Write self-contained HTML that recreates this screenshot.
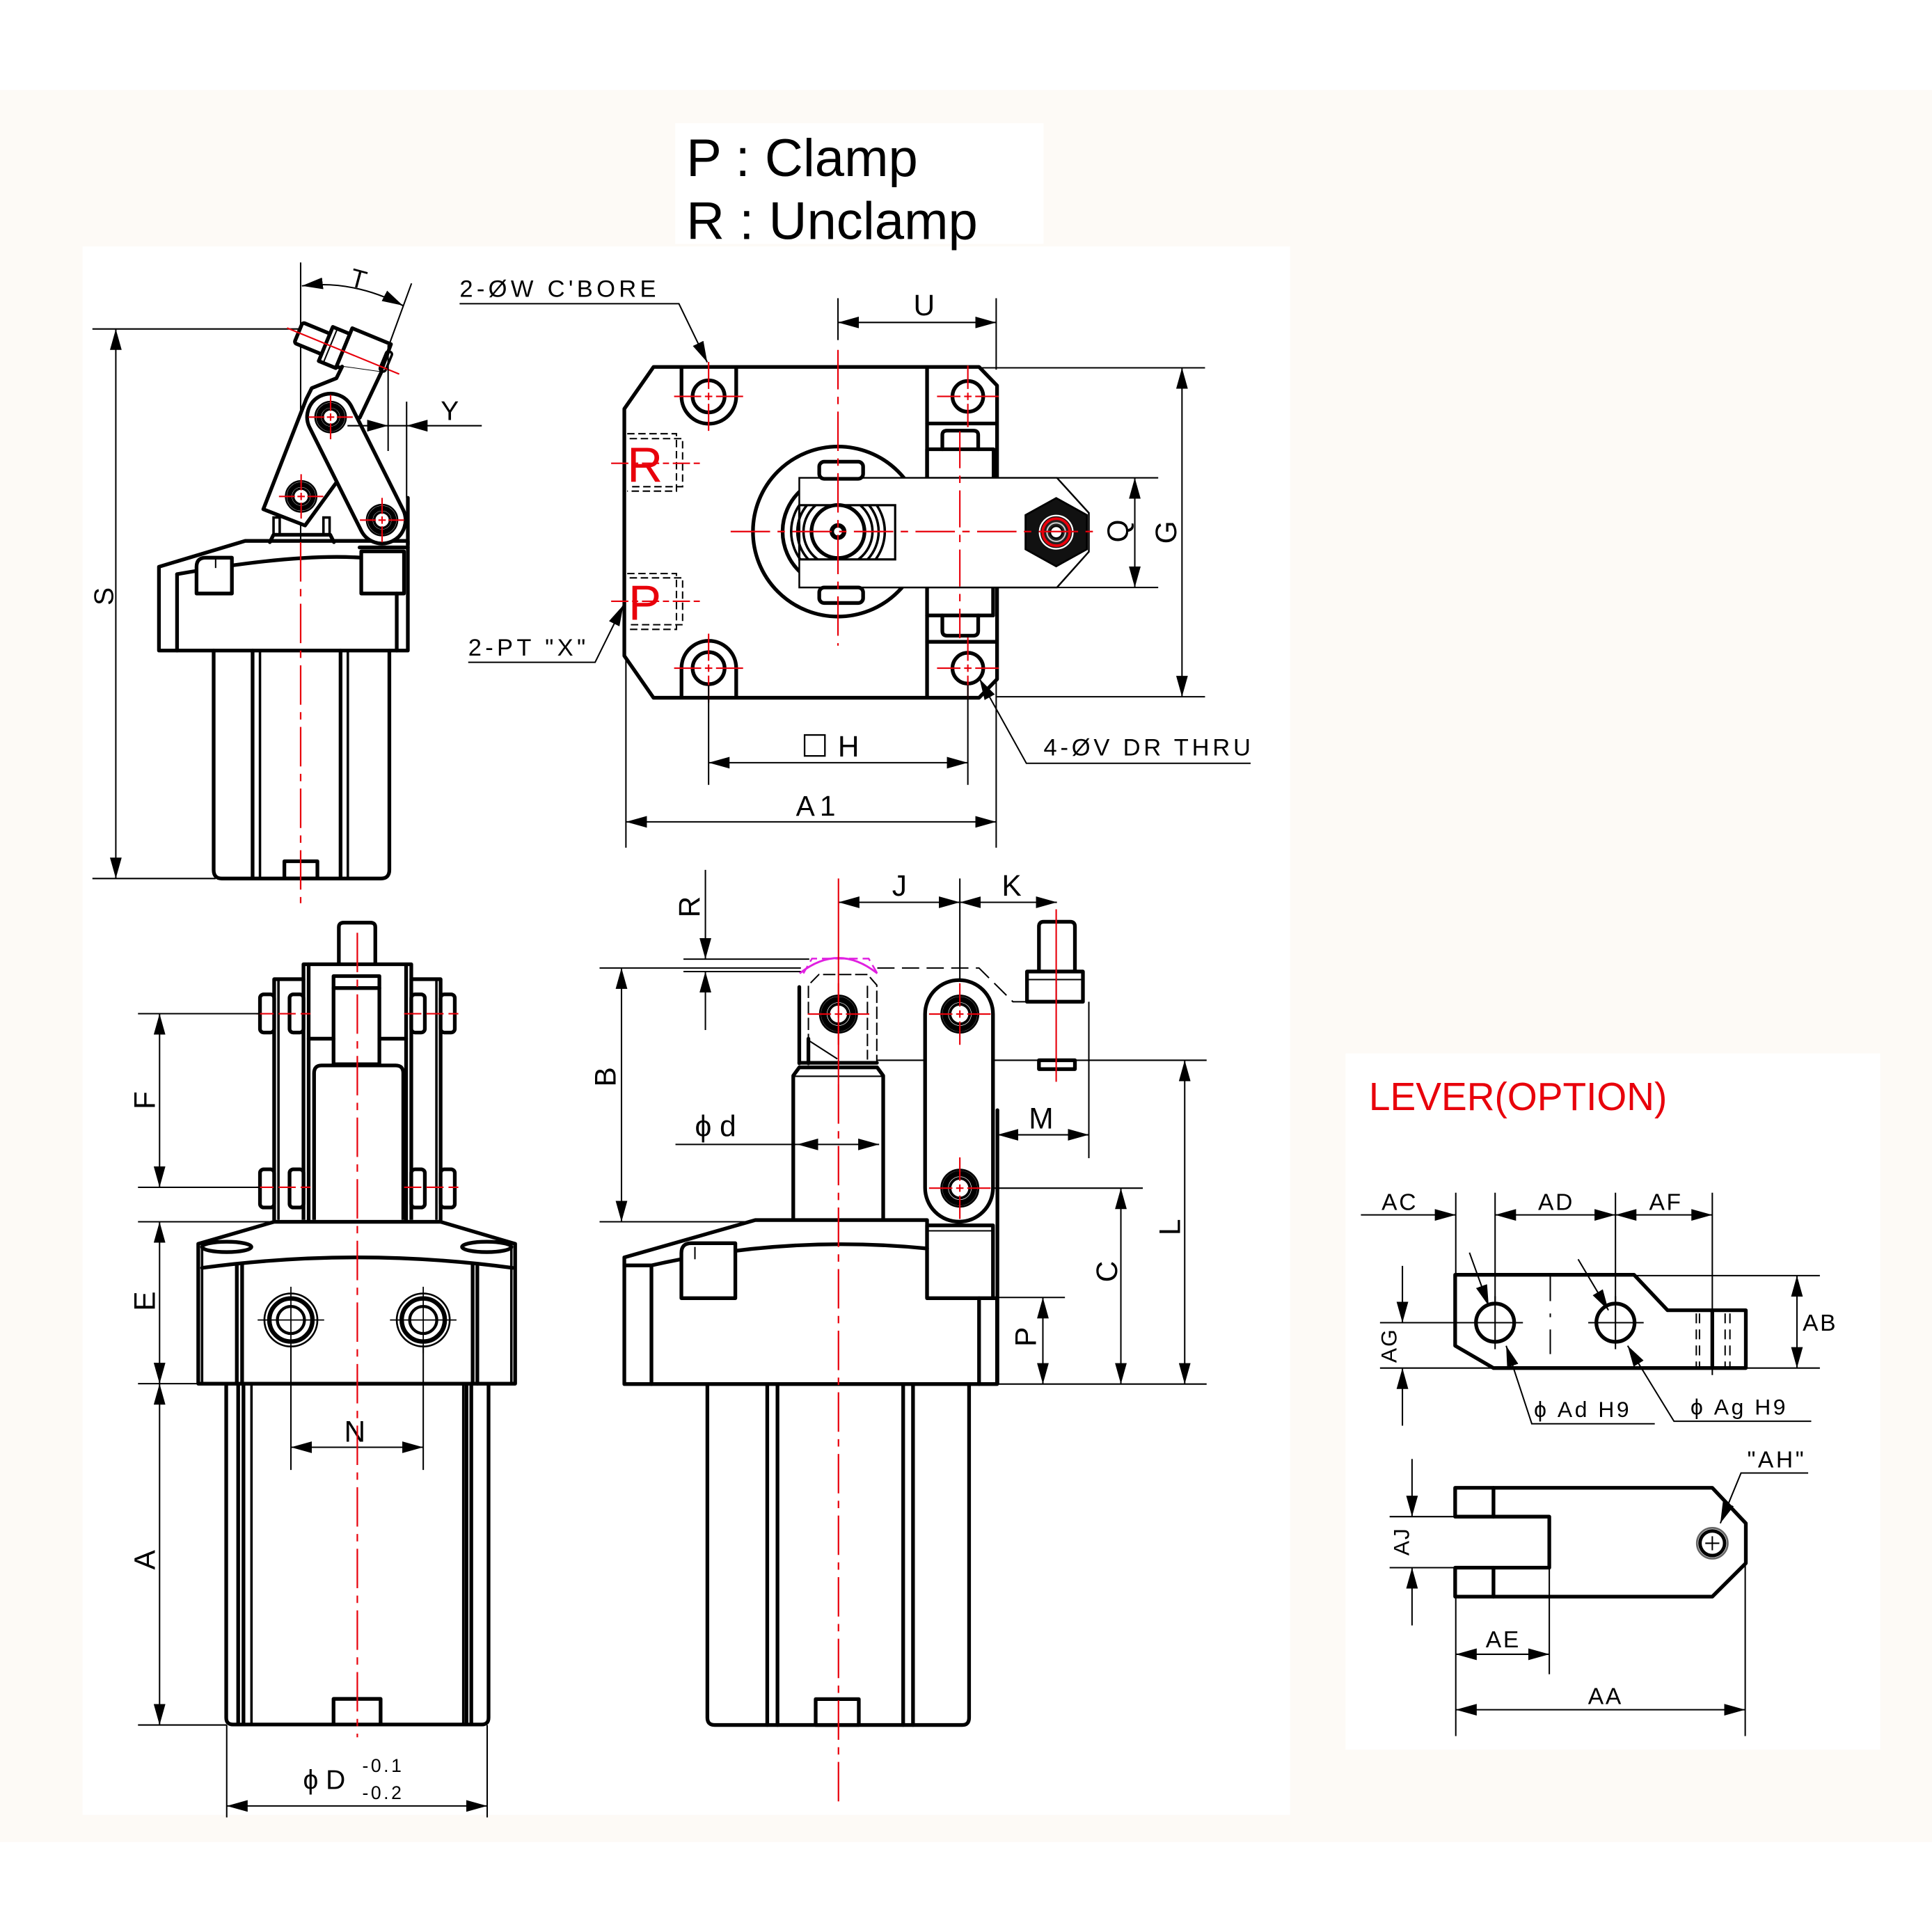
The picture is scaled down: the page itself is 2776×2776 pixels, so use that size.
<!DOCTYPE html>
<html><head><meta charset="utf-8">
<style>
html,body{margin:0;padding:0;background:#fff}
svg{display:block}
.k{stroke:#000;stroke-width:3;fill:none;stroke-linejoin:round;stroke-linecap:round}
.kf{stroke:#000;stroke-width:3;fill:#fff;stroke-linejoin:round}
.m{stroke:#000;stroke-width:2;fill:none}
.t{stroke:#000;stroke-width:1.15;fill:none}
.r{stroke:#e8000b;stroke-width:1.2;fill:none}
.rc{stroke:#e8000b;stroke-width:1.25;fill:none;stroke-dasharray:32 6 6 6}
.dm{stroke:#000;stroke-width:1.15;fill:none;marker-start:url(#a);marker-end:url(#a)}
.de{stroke:#000;stroke-width:1.15;fill:none;marker-end:url(#a)}
text{font-family:"Liberation Sans",Arial,sans-serif;fill:#000}
</style></head><body>
<svg width="2776" height="2776" viewBox="0 0 1568 1568" xmlns="http://www.w3.org/2000/svg">
<defs>
<marker id="a" viewBox="0 0 17 9.5" refX="17" refY="4.75" markerWidth="17" markerHeight="9.5" markerUnits="userSpaceOnUse" orient="auto-start-reverse"><path d="M0,0 L17,4.75 L0,9.5 Z" fill="#000"/></marker>
<path id="x28" d="M-28,0H-6M-3,0H3M6,0H28M0,-28V-6M0,-3V3M0,6V28" stroke="#e8000b" stroke-width="1.2" fill="none"/>
<path id="x24" d="M-25,0H-6M-3,0H3M6,0H25M0,-25V-6M0,-3V3M0,6V25" stroke="#e8000b" stroke-width="1.2" fill="none"/>
<path id="x18" d="M-18,0H-5M-3,0H3M5,0H18M0,-18V-5M0,-3V3M0,5V18" stroke="#e8000b" stroke-width="1.2" fill="none"/>
<path id="bx26" d="M-27,0H27M0,-27V27" stroke="#000" stroke-width="1" fill="none"/>
<g id="pin"><circle r="15" fill="#fff" stroke="#000" stroke-width="1.6"/><circle r="11.8" fill="none" stroke="#000" stroke-width="4.6"/><circle r="8" fill="#fff" stroke="#000" stroke-width="2.2"/></g>
<g id="pins"><circle r="12.5" fill="#fff" stroke="#000" stroke-width="1.4"/><circle r="9.6" fill="none" stroke="#000" stroke-width="4"/><circle r="6.4" fill="#fff" stroke="#000" stroke-width="2"/></g>
<g id="port"><circle r="21.5" fill="#fff" stroke="#000" stroke-width="1.5"/><circle r="17.5" fill="none" stroke="#000" stroke-width="3.6"/><circle r="11" fill="none" stroke="#000" stroke-width="2.4"/></g>
<clipPath id="hc"><rect x="636" y="410" width="100" height="44"/></clipPath>
</defs>

<!-- backgrounds -->
<rect width="1568" height="1568" fill="#fff"/>
<rect x="0" y="73" width="1568" height="1422" fill="#fdfaf6"/>
<rect x="67" y="200" width="980" height="1273" fill="#fff"/>
<rect x="548" y="100" width="299" height="98" fill="#fff"/>
<rect x="1092" y="855" width="434" height="565" fill="#fff"/>

<!-- header -->
<text x="557" y="143" font-size="43">P : Clamp</text>
<text x="557" y="194" font-size="43">R : Unclamp</text>

<!-- ================= VIEW 1 (top-left side) ================= -->
<line class="t" x1="75" y1="267" x2="244" y2="267"/>
<line class="t" x1="75" y1="713" x2="175" y2="713"/>
<line class="dm" x1="94" y1="267" x2="94" y2="713"/>
<text transform="translate(84,484) rotate(-90)" font-size="22" text-anchor="middle" dy="0.36em">S</text>

<line class="t" x1="244" y1="213" x2="244" y2="440"/>
<path class="dm" d="M245,232 Q287,227 327,248"/>
<line class="t" x1="334" y1="230" x2="315" y2="282"/>
<text transform="translate(291,226) rotate(15)" font-size="21" text-anchor="middle" dy="0.36em">T</text>

<!-- flange -->
<path class="kf" d="M129,528 L129,460 L199,439 L331,439 L331,528 Z"/>
<line class="k" x1="143.7" y1="466" x2="143.7" y2="528"/>
<path class="k" d="M143.7,466 Q240,449 293,452.6"/>
<path class="kf" d="M159.5,481.7 L159.5,460 Q159.5,452.6 167,452.6 L188.2,452.6 L188.2,481.7 Z"/>
<line class="t" x1="175" y1="452.6" x2="175" y2="461"/>
<rect class="k" x="293.2" y="447.5" width="34.7" height="34.2"/>
<line class="k" x1="322" y1="481.7" x2="322" y2="528"/>
<line class="k" x1="291.8" y1="444.3" x2="331" y2="444.3"/>
<!-- tube -->
<path class="k" d="M173.4,528 L173.4,706 Q173.4,713 180,713 L309,713 Q316,713 316,706 L316,528"/>
<line class="k" x1="205" y1="528" x2="205" y2="713"/>
<line class="m" x1="211" y1="528" x2="211" y2="713"/>
<line class="k" x1="276.4" y1="528" x2="276.4" y2="713"/>
<line class="m" x1="282.3" y1="528" x2="282.3" y2="713"/>
<rect class="k" x="230.8" y="699" width="26.8" height="14"/>
<line class="rc" x1="244" y1="440" x2="244" y2="733"/>

<!-- bracket under P1 -->
<rect class="m" x="222" y="420" width="5" height="14"/>
<rect class="m" x="262.5" y="420" width="5" height="14"/>
<path class="k" d="M219,440 L222,434 L268,434 L271,440"/>

<!-- rod -->
<g transform="translate(242.2,270) rotate(22.4)">
<rect class="kf" x="0" y="-9" width="25" height="18" rx="2"/>
<rect class="kf" x="24" y="-15" width="15" height="30"/>
<line class="t" x1="28" y1="-15" x2="28" y2="15"/>
<path class="kf" d="M39,-14 L39,-20 L73,-20 L74,5 L39,14 Z"/>
<rect class="m" x="72" y="-14" width="5" height="17" rx="2" fill="#fff"/>
</g>
<!-- left link + upper lever -->
<path fill="#fff" d="M277.7,297.5 L273,307 L253,315 L248.5,324 L213.7,413.3 L247.6,426.5 L273,391.6 L292,339 L309.5,302 Z"/>
<path class="k" d="M277.7,297.5 L273,307 L253,315 L248.5,324 L213.7,413.3 L247.6,426.5 L273,391.6"/>
<path class="k" d="M309.5,302 L292,339"/>
<line class="r" x1="233" y1="266.2" x2="324" y2="303.6"/>
<!-- right link -->
<path class="kf" d="M251.3,347 L293.1,430.6 A19,19 0 0 0 327.1,413.6 L285.3,330 A19,19 0 0 0 251.3,347 Z"/>
<line class="k" x1="331" y1="404" x2="331" y2="442"/>
<use href="#pins" x="244.4" y="402.9"/>
<use href="#pins" x="268.3" y="338.5"/>
<use href="#pins" x="310.1" y="422.1"/>
<use href="#x18" x="244.4" y="402.9"/>
<use href="#x18" x="268.3" y="338.5"/>
<use href="#x18" x="310.1" y="422.1"/>
<!-- Y -->
<line class="t" x1="315" y1="280" x2="315" y2="366"/>
<line class="t" x1="330" y1="326" x2="330" y2="404"/>
<line class="t" x1="282" y1="345.5" x2="391" y2="345.5"/>
<path d="M315,345.5 L298,340.7 L298,350.3 Z" fill="#000"/>
<path d="M330,345.5 L347,340.7 L347,350.3 Z" fill="#000"/>
<text x="365" y="341" font-size="22" text-anchor="middle">Y</text>

<!-- ================= VIEW 2 (top view) ================= -->
<line class="t" x1="680.1" y1="242" x2="680.1" y2="276"/>
<line class="t" x1="808.5" y1="242" x2="808.5" y2="300"/>
<line class="dm" x1="680.1" y1="261.7" x2="808.5" y2="261.7"/>
<text x="750" y="256" font-size="24" text-anchor="middle">U</text>

<path class="kf" d="M530.4,297.8 L794.6,297.8 L809.2,312.9 L809.2,551.2 L794.6,566.3 L530.4,566.3 L506.7,532.3 L506.7,331.8 Z"/>
<path class="k" d="M553.1,298 L553.1,321.7 A22.2,22.2 0 0 0 597.5,321.7 L597.5,298"/>
<circle class="k" cx="575.1" cy="321.7" r="13"/>
<path class="k" d="M553.1,566 L553.1,542.3 A22.2,22.2 0 0 1 597.5,542.3 L597.5,566"/>
<circle class="k" cx="575.1" cy="542.3" r="13"/>
<circle class="k" cx="785.5" cy="321.7" r="12.5"/>
<circle class="k" cx="785.5" cy="542.3" r="12.5"/>
<!-- right block -->
<line class="k" x1="752.4" y1="298" x2="752.4" y2="388.6"/>
<line class="k" x1="752.4" y1="476.8" x2="752.4" y2="566"/>
<line class="k" x1="752.4" y1="343.7" x2="809" y2="343.7"/>
<rect class="k" x="752.4" y="364.6" width="54" height="24"/>
<path class="k" d="M764.8,364.6 L764.8,353 Q764.8,349.5 768.5,349.5 L790,349.5 Q793.9,349.5 793.9,353 L793.9,364.6"/>
<line class="k" x1="806" y1="476.8" x2="806" y2="499.5"/>
<line class="k" x1="752.4" y1="499.5" x2="806" y2="499.5"/>
<path class="k" d="M764.8,499.5 L764.8,512 Q764.8,515.9 768.5,515.9 L790,515.9 Q793.9,515.9 793.9,512 L793.9,499.5"/>
<line class="k" x1="752.4" y1="520.9" x2="809" y2="520.9"/>
<!-- big circle -->
<circle class="k" cx="680.1" cy="431.4" r="69" stroke-width="2.6"/>
<path class="k" d="M648.7,399.2 A45,45 0 0 0 648.7,463.6" stroke-width="2.4"/>
<!-- lever bar -->
<path d="M648.7,387.8 L857.8,387.8 L883.7,416.3 L883.7,447.8 L857.8,476.8 L648.7,476.8 Z" fill="#fff" stroke="#000" stroke-width="1.4"/>
<line class="t" x1="857.8" y1="387.8" x2="940" y2="387.8"/>
<line class="t" x1="857.8" y1="476.8" x2="940" y2="476.8"/>
<rect x="648.7" y="410" width="77.8" height="44" fill="none" stroke="#000" stroke-width="1.8"/>
<g clip-path="url(#hc)" fill="none" stroke="#000" stroke-width="2"><circle cx="680.1" cy="431.4" r="28"/><circle cx="680.1" cy="431.4" r="33"/><circle cx="680.1" cy="431.4" r="38"/></g>
<circle class="k" cx="680.1" cy="431.4" r="21.5" stroke-width="2.5"/>
<circle cx="680.1" cy="431.4" r="5" fill="#fff" stroke="#000" stroke-width="3.6"/>
<rect class="kf" x="664.9" y="374.7" width="35.6" height="13.9" rx="4"/>
<rect class="kf" x="664.9" y="476.8" width="35.6" height="12.6" rx="4"/>
<!-- hex nut -->
<polygon points="857.2,404.2 882.1,418 882.1,445.8 857.2,459.6 832.3,445.8 832.3,418" fill="#111" stroke="#000" stroke-width="1.5"/>
<circle cx="857.2" cy="431.9" r="13.5" fill="none" stroke="#fff" stroke-width="1.3"/>
<circle cx="857.2" cy="431.9" r="11" fill="#222" stroke="#e8000b" stroke-width="2.2"/>
<circle cx="857.2" cy="431.9" r="7.5" fill="none" stroke="#ccc" stroke-width="1.2"/>
<circle cx="857.2" cy="431.9" r="4.8" fill="#fff" stroke="#000" stroke-width="1.2"/>
<!-- centerlines -->
<line class="rc" x1="680.1" y1="284" x2="680.1" y2="524"/>
<line class="rc" x1="593" y1="431.4" x2="892" y2="431.4"/>
<line class="r" x1="779" y1="350" x2="779" y2="518" stroke-dasharray="30 6 6 6"/>
<use href="#x28" x="575.1" y="321.7"/>
<use href="#x28" x="575.1" y="542.3"/>
<use href="#x24" x="785.5" y="321.7"/>
<use href="#x24" x="785.5" y="542.3"/>
<!-- R / P ports -->
<path class="t" stroke-dasharray="6 3" d="M509,352 H549 V398.6 H509 M511,356 H554 V395 H511"/>
<path class="t" stroke-dasharray="6 3" d="M509,465.5 H549 V510.8 H509 M511,469 H554 V507 H511"/>
<line class="r" x1="496" y1="376" x2="568" y2="376" stroke-dasharray="14 3 5 3"/>
<line class="r" x1="496" y1="488" x2="568" y2="488" stroke-dasharray="14 3 5 3"/>
<text x="509" y="391" font-size="40" fill="#e8000b" style="fill:#e8000b">R</text>
<text x="510" y="503" font-size="40" fill="#e8000b" style="fill:#e8000b">P</text>
<!-- leaders -->
<text x="373" y="241" font-size="19.5" letter-spacing="3">2-ØW C'BORE</text>
<path class="de" d="M373,246.5 L551,246.5 L574,294"/>
<text x="380" y="532" font-size="19.5" letter-spacing="3">2-PT "X"</text>
<path class="de" d="M380,537.5 L483,537.5 L506,491"/>
<text x="847" y="613" font-size="19.5" letter-spacing="2.7">4-ØV DR THRU</text>
<path class="de" d="M1015,619.5 L833,619.5 L795,551"/>
<!-- H -->
<line class="t" x1="575.1" y1="556" x2="575.1" y2="637"/>
<line class="t" x1="785.5" y1="556" x2="785.5" y2="637"/>
<line class="dm" x1="575.1" y1="619" x2="785.5" y2="619"/>
<rect x="653" y="596.5" width="16.5" height="17" fill="none" stroke="#000" stroke-width="1.3"/>
<text x="680" y="614" font-size="24">H</text>
<!-- A1 -->
<line class="t" x1="508" y1="536" x2="508" y2="688"/>
<line class="t" x1="808.5" y1="553" x2="808.5" y2="688"/>
<line class="dm" x1="508" y1="667" x2="808.5" y2="667"/>
<text x="646" y="662" font-size="23" letter-spacing="4">A1</text>
<!-- G, Q -->
<line class="t" x1="797" y1="298.5" x2="978" y2="298.5"/>
<line class="t" x1="809" y1="565.5" x2="978" y2="565.5"/>
<line class="dm" x1="959.3" y1="298.5" x2="959.3" y2="565.5"/>
<text transform="translate(946,432) rotate(-90)" font-size="24" text-anchor="middle" dy="0.36em">G</text>
<line class="dm" x1="921" y1="387.8" x2="921" y2="476.8"/>
<text transform="translate(907,431) rotate(-90)" font-size="24" text-anchor="middle" dy="0.36em">Q</text>

<!-- ================= VIEW 3 (front) ================= -->
<!-- top pin -->
<path class="kf" d="M275,782.6 L275,752.5 Q275,748.8 279,748.8 L300.6,748.8 Q304.6,748.8 304.6,752.5 L304.6,782.6"/>
<!-- clevis -->
<path class="kf" d="M246.3,990 L246.3,782.6 L333.8,782.6 L333.8,990"/>
<line class="k" x1="250.5" y1="782.6" x2="250.5" y2="990"/>
<line class="k" x1="329.6" y1="782.6" x2="329.6" y2="990"/>
<path class="k" d="M222.5,990 L222.5,794.7 L246.3,794.7"/>
<line class="m" x1="226" y1="794.7" x2="226" y2="990"/>
<path class="k" d="M357.6,990 L357.6,794.7 L333.8,794.7"/>
<line class="m" x1="354.2" y1="794.7" x2="354.2" y2="990"/>
<rect class="kf" x="270.7" y="792.2" width="37.2" height="71.5"/>
<line class="k" x1="270.7" y1="801.9" x2="307.9" y2="801.9"/>
<line class="k" x1="250.5" y1="843" x2="270.7" y2="843"/>
<line class="k" x1="307.9" y1="843" x2="329.6" y2="843"/>
<path class="kf" d="M254.9,990 L254.9,871 Q254.9,864.7 261,864.7 L321,864.7 Q327.3,864.7 327.3,871 L327.3,990"/>
<!-- bolts -->
<rect class="kf" x="211" y="807" width="11.5" height="31" rx="3"/>
<rect class="kf" x="235" y="807" width="11.3" height="31" rx="3"/>
<rect class="kf" x="333.8" y="807" width="11" height="31" rx="3"/>
<rect class="kf" x="357.6" y="807" width="11.5" height="31" rx="3"/>
<rect class="kf" x="211" y="949" width="11.5" height="31" rx="3"/>
<rect class="kf" x="235" y="949" width="11.3" height="31" rx="3"/>
<rect class="kf" x="333.8" y="949" width="11" height="31" rx="3"/>
<rect class="kf" x="357.6" y="949" width="11.5" height="31" rx="3"/>
<line class="r" x1="208" y1="822.7" x2="252" y2="822.7" stroke-dasharray="14 4"/>
<line class="r" x1="328" y1="822.7" x2="372" y2="822.7" stroke-dasharray="14 4"/>
<line class="r" x1="208" y1="963.6" x2="252" y2="963.6" stroke-dasharray="14 4"/>
<line class="r" x1="328" y1="963.6" x2="372" y2="963.6" stroke-dasharray="14 4"/>
<!-- F E A dims -->
<line class="t" x1="112" y1="822.7" x2="211" y2="822.7"/>
<line class="t" x1="112" y1="963.6" x2="211" y2="963.6"/>
<line class="t" x1="112" y1="991.6" x2="222" y2="991.6"/>
<line class="t" x1="112" y1="1123" x2="161" y2="1123"/>
<line class="t" x1="112" y1="1400" x2="184" y2="1400"/>
<line class="dm" x1="129.5" y1="822.7" x2="129.5" y2="963.6"/>
<line class="dm" x1="129.5" y1="991.6" x2="129.5" y2="1123"/>
<line class="dm" x1="129.5" y1="1123" x2="129.5" y2="1400"/>
<text transform="translate(117,893) rotate(-90)" font-size="24" text-anchor="middle" dy="0.36em">F</text>
<text transform="translate(117,1056) rotate(-90)" font-size="24" text-anchor="middle" dy="0.36em">E</text>
<text transform="translate(117,1266) rotate(-90)" font-size="24" text-anchor="middle" dy="0.36em">A</text>
<!-- flange -->
<path class="kf" d="M160.9,1123 L160.9,1009.5 L222.5,991.6 L357.6,991.6 L418.1,1009.5 L418.1,1123 Z"/>
<path class="k" d="M164,1029 Q290,1012 416,1029"/>
<line class="m" x1="164" y1="1012" x2="164" y2="1123"/>
<line class="k" x1="192.2" y1="1027" x2="192.2" y2="1123"/>
<line class="k" x1="196.5" y1="1026" x2="196.5" y2="1123"/>
<line class="k" x1="383.6" y1="1026" x2="383.6" y2="1123"/>
<line class="k" x1="387.4" y1="1027" x2="387.4" y2="1123"/>
<line class="m" x1="415" y1="1012" x2="415" y2="1123"/>
<ellipse class="k" cx="184" cy="1012" rx="20" ry="4.2" stroke-width="2.5"/>
<ellipse class="k" cx="395" cy="1012" rx="20" ry="4.2" stroke-width="2.5"/>
<use href="#port" x="236.1" y="1071.3"/>
<use href="#port" x="343.5" y="1071.3"/>
<use href="#bx26" x="236.1" y="1071.3"/>
<use href="#bx26" x="343.5" y="1071.3"/>
<!-- N -->
<line class="t" x1="236.1" y1="1092" x2="236.1" y2="1193"/>
<line class="t" x1="343.5" y1="1092" x2="343.5" y2="1193"/>
<line class="dm" x1="236.1" y1="1174.6" x2="343.5" y2="1174.6"/>
<text x="288" y="1170" font-size="24" text-anchor="middle">N</text>
<!-- tube -->
<path class="k" d="M183.6,1123 L183.6,1394 Q183.6,1399.6 189,1399.6 L391,1399.6 Q396.5,1399.6 396.5,1394 L396.5,1123"/>
<line class="k" x1="193.3" y1="1123" x2="193.3" y2="1399.6"/>
<line class="k" x1="197.6" y1="1123" x2="197.6" y2="1399.6"/>
<line class="m" x1="204.1" y1="1123" x2="204.1" y2="1399.6" stroke-width="1.4"/>
<line class="m" x1="376" y1="1123" x2="376" y2="1399.6" stroke-width="1.4"/>
<line class="k" x1="378.6" y1="1123" x2="378.6" y2="1399.6"/>
<line class="k" x1="382.5" y1="1123" x2="382.5" y2="1399.6"/>
<rect class="kf" x="270.7" y="1378.8" width="38.2" height="20.8"/>
<line class="rc" x1="290" y1="757" x2="290" y2="1410"/>
<!-- D -->
<line class="t" x1="184" y1="1400" x2="184" y2="1475"/>
<line class="t" x1="395.4" y1="1400" x2="395.4" y2="1475"/>
<line class="dm" x1="184" y1="1465.7" x2="395.4" y2="1465.7"/>
<text x="246" y="1452" font-size="22">ϕ D</text>
<text x="294" y="1438" font-size="15" letter-spacing="2">-0.1</text>
<text x="294" y="1460" font-size="15" letter-spacing="2">-0.2</text>

<!-- ================= VIEW 4 (side) ================= -->
<!-- J K -->
<line class="t" x1="779" y1="713" x2="779" y2="796"/>
<line class="dm" x1="680.5" y1="732.3" x2="779" y2="732.3"/>
<line class="dm" x1="779" y1="732.3" x2="857.8" y2="732.3"/>
<text x="730" y="727" font-size="24" text-anchor="middle">J</text>
<text x="821" y="727" font-size="24" text-anchor="middle">K</text>
<!-- R -->
<line class="de" x1="572.5" y1="706" x2="572.5" y2="778.4"/>
<line class="de" x1="572.5" y1="836" x2="572.5" y2="788.5"/>
<line class="t" x1="554.7" y1="778.4" x2="656.8" y2="778.4"/>
<line class="t" x1="554.7" y1="788.5" x2="650" y2="788.5"/>
<text transform="translate(559,736) rotate(-90)" font-size="24" text-anchor="middle" dy="0.36em">R</text>
<!-- B -->
<line class="t" x1="486.6" y1="785.6" x2="650" y2="785.6"/>
<path class="t" d="M712,785.6 L794.5,785.6 L822.1,813 L833.5,813" stroke-dasharray="14 6"/>
<line class="t" x1="486.6" y1="991.6" x2="613" y2="991.6"/>
<line class="dm" x1="504.4" y1="785.6" x2="504.4" y2="991.6"/>
<text transform="translate(491,874) rotate(-90)" font-size="24" text-anchor="middle" dy="0.36em">B</text>
<!-- clevis head -->
<path class="t" d="M656.1,862 L656.1,799.5 L664.6,790.9 L704.1,790.9 L711.6,799.5 L711.6,862" stroke-dasharray="10 3"/>
<line class="t" x1="704" y1="800" x2="704" y2="860" stroke-dasharray="10 3"/>
<line class="k" x1="648.7" y1="801" x2="648.7" y2="863"/>
<line class="k" x1="656.1" y1="843" x2="656.1" y2="863"/>
<line class="t" x1="656.1" y1="844.3" x2="679.6" y2="859.4"/>
<line class="k" x1="648.7" y1="862.6" x2="711.7" y2="862.6"/>
<path d="M649,790 Q680.5,765 712,790" fill="none" stroke="#e020e0" stroke-width="1.6"/>
<path d="M652,790 L659,778 L705,778 L712,790" fill="none" stroke="#e020e0" stroke-width="1.4" stroke-dasharray="7 4"/>
<use href="#pin" x="680.5" y="823"/>
<use href="#x24" x="680.5" y="823"/>
<!-- piston rod -->
<path class="kf" d="M643.8,990 L643.8,873 L648.7,866.3 L711.9,866.3 L716.8,873 L716.8,990"/>
<line class="t" x1="644" y1="873.5" x2="717" y2="873.5"/>
<line class="t" x1="548.2" y1="928.8" x2="647" y2="928.8"/>
<line class="dm" x1="647" y1="928.8" x2="713.5" y2="928.8"/>
<text x="564" y="922" font-size="24">ϕ d</text>
<!-- link arm -->
<path class="kf" d="M750.8,964 L750.8,823 A27.55,27.55 0 0 1 805.9,823 L805.9,964 A27.55,27.55 0 0 1 750.8,964 Z"/>
<line class="k" x1="809.5" y1="901" x2="809.5" y2="1123"/>
<use href="#pin" x="779" y="823"/>
<use href="#pin" x="779" y="964.3"/>
<use href="#x24" x="779" y="823"/>
<use href="#x24" x="779" y="964.3"/>
<line class="t" x1="711.9" y1="860.5" x2="750.8" y2="860.5"/>
<line class="t" x1="805.9" y1="860.5" x2="979.3" y2="860.5"/>
<!-- flange body -->
<path class="kf" d="M506.7,1123.3 L506.7,1020.5 L613,990.2 L752.4,990.2 L752.4,1053.6 L809.2,1053.6 L809.2,1123.3 Z"/>
<rect class="kf" x="752.4" y="994.5" width="53.5" height="59.1"/>
<line class="t" x1="752.4" y1="998.9" x2="805.9" y2="998.9"/>
<path class="k" d="M506.7,1027 L528.7,1027 Q640,1002 752.4,1013.3"/>
<line class="k" x1="528.7" y1="1027" x2="528.7" y2="1123.3"/>
<line class="k" x1="794.6" y1="1053.6" x2="794.6" y2="1123.3"/>
<path class="kf" d="M553,1053.6 L553,1017 Q553,1009 561,1009 L596.8,1009 L596.8,1053.6 Z"/>
<line class="t" x1="564" y1="1012" x2="564" y2="1022"/>
<!-- tube -->
<path class="k" d="M574.1,1123.3 L574.1,1394 Q574.1,1400 580,1400 L781,1400 Q786.5,1400 786.5,1394 L786.5,1123.3"/>
<line class="k" x1="622.7" y1="1123.3" x2="622.7" y2="1400"/>
<line class="k" x1="631" y1="1123.3" x2="631" y2="1400"/>
<line class="k" x1="733" y1="1123.3" x2="733" y2="1400"/>
<line class="k" x1="741" y1="1123.3" x2="741" y2="1400"/>
<rect class="kf" x="662" y="1379" width="35" height="21"/>
<line class="r" x1="680.5" y1="713" x2="680.5" y2="880"/>
<line class="rc" x1="680.5" y1="880" x2="680.5" y2="1462"/>
<!-- K bolt -->
<path class="kf" d="M843.2,788.5 L843.2,752 Q843.2,748.1 847,748.1 L868.5,748.1 Q872.4,748.1 872.4,752 L872.4,788.5"/>
<rect class="kf" x="833.5" y="788.5" width="45.4" height="24.5"/>
<line class="t" x1="833.5" y1="795" x2="878.9" y2="795"/>
<line class="t" x1="857.2" y1="795" x2="857.2" y2="813"/>
<rect class="kf" x="843.2" y="860.5" width="29.2" height="7.2"/>
<line class="r" x1="857.2" y1="738" x2="857.2" y2="878"/>
<!-- M C L P -->
<line class="t" x1="883.7" y1="813" x2="883.7" y2="940"/>
<line class="dm" x1="809.5" y1="921" x2="883.7" y2="921"/>
<text x="845" y="916" font-size="24" text-anchor="middle">M</text>
<line class="t" x1="805.9" y1="964.3" x2="927.5" y2="964.3"/>
<line class="dm" x1="909.7" y1="964.3" x2="909.7" y2="1123.3"/>
<text transform="translate(898,1032) rotate(-90)" font-size="24" text-anchor="middle" dy="0.36em">C</text>
<line class="dm" x1="961.5" y1="860.5" x2="961.5" y2="1123.3"/>
<text transform="translate(949,996) rotate(-90)" font-size="24" text-anchor="middle" dy="0.36em">L</text>
<line class="t" x1="809.2" y1="1053" x2="864.3" y2="1053"/>
<line class="dm" x1="846.4" y1="1053" x2="846.4" y2="1123.3"/>
<text transform="translate(832,1085) rotate(-90)" font-size="24" text-anchor="middle" dy="0.36em">P</text>
<line class="t" x1="809.2" y1="1123.3" x2="979.3" y2="1123.3"/>

<!-- ================= VIEW 5 (lever option) ================= -->
<text x="1111" y="901" font-size="32" textLength="242" lengthAdjust="spacingAndGlyphs" style="fill:#e8000b">LEVER(OPTION)</text>
<!-- upper lever -->
<path class="kf" d="M1181,1034.6 L1326.2,1034.6 L1353.4,1063.4 L1416.9,1063.4 L1416.9,1110.3 L1212.1,1110.3 L1181,1092.2 Z"/>
<line class="k" x1="1389.7" y1="1063.4" x2="1389.7" y2="1110.3"/>
<g class="t" stroke-dasharray="8 5">
<line x1="1376.7" y1="1066" x2="1376.7" y2="1110"/><line x1="1379.3" y1="1066" x2="1379.3" y2="1110"/>
<line x1="1400.1" y1="1066" x2="1400.1" y2="1110"/><line x1="1404" y1="1066" x2="1404" y2="1110"/>
</g>
<line class="t" x1="1258.2" y1="1036" x2="1258.2" y2="1110" stroke-dasharray="20 10 3 10"/>
<circle class="kf" cx="1213.4" cy="1073.5" r="15.5"/>
<circle class="kf" cx="1311.1" cy="1073.5" r="15.5"/>
<path class="t" d="M1191,1073.5H1236M1213.4,1052V1095M1289,1073.5H1334M1311.1,1052V1095"/>
<!-- dims top -->
<line class="t" x1="1181.5" y1="968" x2="1181.5" y2="1034.6"/>
<line class="t" x1="1213.4" y1="968" x2="1213.4" y2="1058"/>
<line class="t" x1="1311.1" y1="968" x2="1311.1" y2="1058"/>
<line class="t" x1="1389.7" y1="968" x2="1389.7" y2="1116"/>
<line class="de" x1="1104.5" y1="986" x2="1181.5" y2="986"/>
<line class="dm" x1="1213.4" y1="986" x2="1311.1" y2="986"/>
<line class="dm" x1="1311.1" y1="986" x2="1389.7" y2="986"/>
<text x="1136" y="982" font-size="19" text-anchor="middle" letter-spacing="1.5">AC</text>
<text x="1263" y="982" font-size="19" text-anchor="middle" letter-spacing="1.5">AD</text>
<text x="1352" y="982" font-size="19" text-anchor="middle" letter-spacing="1.5">AF</text>
<!-- AB -->
<line class="t" x1="1328" y1="1035.3" x2="1477" y2="1035.3"/>
<line class="t" x1="1417" y1="1110.3" x2="1477" y2="1110.3"/>
<line class="dm" x1="1458.4" y1="1035.3" x2="1458.4" y2="1110.3"/>
<text x="1463" y="1080" font-size="19" letter-spacing="1.5">AB</text>
<!-- AG -->
<line class="t" x1="1120" y1="1073.5" x2="1192" y2="1073.5"/>
<line class="t" x1="1120" y1="1110.3" x2="1212" y2="1110.3"/>
<line class="de" x1="1138.2" y1="1027.4" x2="1138.2" y2="1073.5"/>
<line class="de" x1="1138.2" y1="1157.1" x2="1138.2" y2="1110.3"/>
<text transform="translate(1127,1092) rotate(-90)" font-size="18" text-anchor="middle" dy="0.36em" letter-spacing="1">AG</text>
<!-- leaders -->
<line class="de" x1="1192.6" y1="1016.6" x2="1208.2" y2="1059.8"/>
<path class="de" d="M1343,1155.5 L1243.2,1155.5 L1222.4,1092.2"/>
<text x="1245" y="1150" font-size="18" letter-spacing="2">ϕ Ad H9</text>
<line class="de" x1="1280.8" y1="1022" x2="1305.4" y2="1063.4"/>
<path class="de" d="M1470,1153.5 L1358.6,1153.5 L1321,1092.2"/>
<text x="1372" y="1148" font-size="18" letter-spacing="2">ϕ Ag H9</text>
<!-- lower lever -->
<path class="kf" d="M1181,1207.5 L1389.7,1207.5 L1416.9,1236.3 L1416.9,1268.7 L1389.7,1295.8 L1181,1295.8 L1181,1272.3 L1257.4,1272.3 L1257.4,1230.9 L1181,1230.9 Z"/>
<line class="k" x1="1212.1" y1="1207.5" x2="1212.1" y2="1230.9"/>
<line class="k" x1="1212.1" y1="1272.3" x2="1212.1" y2="1295.8"/>
<circle cx="1389.7" cy="1252.5" r="12.5" fill="#fff" stroke="#666" stroke-width="1.5"/>
<circle cx="1389.7" cy="1252.5" r="10" fill="#fff" stroke="#000" stroke-width="2.8"/>
<path class="t" d="M1384,1252.5H1395.4M1389.7,1246.8V1258.2"/>
<path class="de" d="M1467.5,1195.5 L1413,1195.5 L1396.2,1236.3"/>
<text x="1418" y="1191" font-size="19" letter-spacing="2">"AH"</text>
<!-- AJ -->
<line class="t" x1="1127.8" y1="1230.9" x2="1181" y2="1230.9"/>
<line class="t" x1="1127.8" y1="1272.3" x2="1181" y2="1272.3"/>
<line class="de" x1="1146" y1="1184.1" x2="1146" y2="1230.9"/>
<line class="de" x1="1146" y1="1319.2" x2="1146" y2="1272.3"/>
<text transform="translate(1137,1251) rotate(-90)" font-size="18" text-anchor="middle" dy="0.36em" letter-spacing="1">AJ</text>
<!-- AE AA -->
<line class="t" x1="1257.4" y1="1272.3" x2="1257.4" y2="1358.8"/>
<line class="t" x1="1181.5" y1="1295.8" x2="1181.5" y2="1409"/>
<line class="t" x1="1416.4" y1="1268.7" x2="1416.4" y2="1409"/>
<line class="dm" x1="1181.5" y1="1342.6" x2="1257.4" y2="1342.6"/>
<text x="1220" y="1337" font-size="19" text-anchor="middle" letter-spacing="1.5">AE</text>
<line class="dm" x1="1181.5" y1="1387.6" x2="1416.4" y2="1387.6"/>
<text x="1303" y="1383" font-size="19" text-anchor="middle" letter-spacing="1.5">AA</text>
</svg>
</body></html>
